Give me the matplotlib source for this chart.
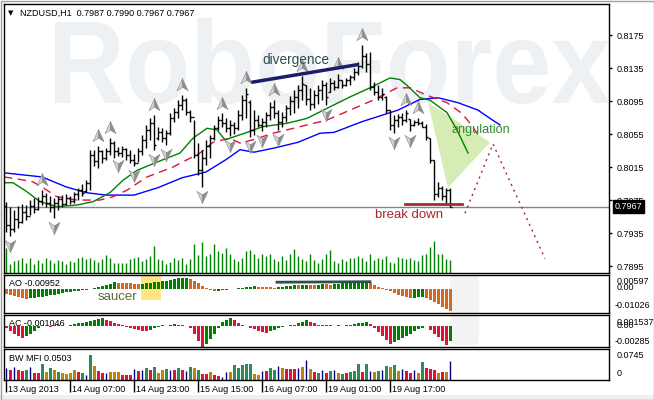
import numpy as np
import matplotlib.pyplot as plt
from matplotlib.path import Path
from matplotlib.patches import Polygon, Rectangle, FancyBboxPatch, PathPatch
from matplotlib.textpath import TextPath
from matplotlib.font_manager import FontProperties
from matplotlib.transforms import Affine2D, blended_transform_factory

plt.rcParams['font.family'] = ['Liberation Sans', 'DejaVu Sans']

# ---------------- data ----------------
title = 'NZDUSD,H1  0.7987 0.7990 0.7967 0.7967'
ao_label = 'AO -0.00952'
ac_label = 'AC -0.001046'
mfi_label = 'BW MFI 0.0503'
date_bars = [0, 16, 32, 48, 64, 80, 96]
date_labels = ['13 Aug 2013', '14 Aug 07:00', '14 Aug 23:00', '15 Aug 15:00',
               '16 Aug 07:00', '19 Aug 01:00', '19 Aug 17:00']
price_ticks = [0.7895, 0.7935, 0.7975, 0.8015, 0.8055, 0.8095, 0.8135, 0.8175]

high = [.7973, .7966, .7963, .7968, .7970, .7969, .7975, .7977, .7979, .7987,
        .7984, .7980, .7977, .7980, .7981, .7982, .7980, .7985, .7990, .7994,
        .7999, .8036, .8036, .8041, .8036, .8038, .8050, .8047, .8039, .8041,
        .8038, .8036, .8031, .8038, .8054, .8066, .8074, .8078, .8064, .8062,
        .8060, .8080, .8087, .8096, .8102, .8099, .8084, .8072, .8044, .8036,
        .8048, .8054, .8066, .8077, .8080, .8074, .8072, .8070, .8084, .8102,
        .8111, .8096, .8084, .8078, .8074, .8082, .8094, .8096, .8084, .8082,
        .8090, .8101, .8108, .8114, .8125, .8114, .8111, .8108, .8114, .8120,
        .8118, .8123, .8120, .8128, .8120, .8123, .8127, .8135, .8142, .8163,
        .8153, .8154, .8118, .8114, .8111, .8101, .8084, .8078, .8079, .8080,
        .8084, .8073, .8072, .8075, .8071, .8067, .8050, .8024, .7997, .7992,
        .7990, .7990]
low = [.7936, .7931, .7936, .7941, .7947, .7951, .7957, .7959, .7963, .7969,
       .7966, .7961, .7953, .7963, .7966, .7969, .7970, .7971, .7975, .7980,
       .7985, .7987, .8016, .8014, .8020, .8024, .8030, .8026, .8028, .8027,
       .8024, .8020, .8016, .8021, .8030, .8038, .8048, .8036, .8048, .8045,
       .8042, .8054, .8070, .8074, .8084, .8078, .8070, .8026, .8005, .7991,
       .8017, .8026, .8048, .8060, .8063, .8057, .8053, .8055, .8060, .8072,
       .8074, .8051, .8054, .8063, .8059, .8064, .8072, .8074, .8060, .8064,
       .8070, .8078, .8081, .8086, .8096, .8090, .8084, .8086, .8091, .8096,
       .8090, .8106, .8108, .8111, .8111, .8113, .8114, .8120, .8127, .8135,
       .8130, .8108, .8102, .8096, .8096, .8080, .8060, .8056, .8063, .8066,
       .8070, .8059, .8065, .8066, .8063, .8048, .8020, .7975, .7979, .7975,
       .7971, .7967]
open_ = [.7968, .7945, .7940, .7952, .7948, .7960, .7956, .7968, .7964, .7974,
         .7980, .7972, .7966, .7972, .7976, .7970, .7978, .7974, .7982, .7987,
         .7986, .7996, .8030, .8022, .8034, .8026, .8034, .8044, .8034, .8032,
         .8037, .8030, .8024, .8020, .8034, .8048, .8060, .8068, .8050, .8058,
         .8050, .8056, .8074, .8082, .8090, .8096, .8082, .8076, .8030, .8012,
         .8026, .8040, .8050, .8062, .8072, .8068, .8062, .8066, .8062, .8078,
         .8096, .8094, .8060, .8072, .8066, .8070, .8078, .8088, .8080, .8070,
         .8076, .8086, .8095, .8100, .8108, .8114, .8098, .8092, .8102, .8108,
         .8115, .8106, .8117, .8112, .8120, .8114, .8120, .8124, .8130, .8138,
         .8150, .8140, .8112, .8106, .8100, .8100, .8084, .8066, .8072, .8076,
         .8072, .8073, .8066, .8070, .8068, .8064, .8050, .8024, .7982, .7990,
         .7980, .7987]
close = [.7945, .7940, .7952, .7948, .7960, .7956, .7968, .7964, .7974, .7980,
         .7972, .7966, .7972, .7976, .7970, .7978, .7974, .7982, .7987, .7984,
         .7996, .8030, .8022, .8034, .8026, .8034, .8044, .8034, .8032, .8037,
         .8030, .8024, .8020, .8034, .8048, .8060, .8068, .8042, .8058, .8050,
         .8056, .8074, .8082, .8090, .8096, .8082, .8076, .8030, .8012, .8026,
         .8040, .8050, .8062, .8072, .8068, .8062, .8066, .8062, .8078, .8096,
         .8104, .8060, .8072, .8066, .8070, .8078, .8088, .8080, .8070, .8076,
         .8086, .8095, .8100, .8108, .8116, .8098, .8092, .8102, .8108, .8115,
         .8100, .8117, .8112, .8120, .8114, .8120, .8124, .8130, .8138, .8150,
         .8140, .8112, .8106, .8100, .8104, .8084, .8066, .8072, .8076, .8072,
         .8080, .8066, .8070, .8068, .8064, .8052, .8024, .7982, .7990, .7980,
         .7987, .7967]
volume = [1500, 540, 720, 780, 900, 600, 900, 540, 780, 600,
          900, 780, 600, 780, 720, 540, 720, 660, 900, 960,
          840, 900, 780, 660, 840, 1080, 900, 600, 600, 600,
          600, 840, 900, 960, 720, 840, 1020, 1620, 840, 780,
          540, 660, 900, 780, 900, 540, 840, 1740, 1080, 1860,
          1020, 1140, 1740, 1320, 1200, 1500, 1140, 840, 720, 900,
          1320, 1380, 1140, 900, 1140, 1020, 1140, 840, 720, 1020,
          780, 1140, 1440, 1020, 840, 720, 1140, 780, 600, 840,
          1140, 1380, 720, 600, 840, 720, 900, 900, 1020, 900,
          720, 1140, 780, 900, 840, 1020, 660, 600, 960, 900,
          840, 900, 780, 720, 1080, 1140, 1560, 1920, 1140, 1140,
          840, 780]

# Alligator lines (jaw / teeth / lips), sampled along the picture
jaw_bar = [-0.5, 9, 15, 20, 25, 32, 38, 44, 50, 55, 58.5, 62, 67, 73, 78.5, 82,
           89, 98, 103.5, 108, 113, 118, 121, 123.5]
jaw_price = [.8008, .8003, .7991, .7984, .7981, .7981, .7990, .8002, .8009, .8024,
             .8036, .8033, .8038, .8045, .8056, .8057, .8070, .8084, .8097, .8099,
             .8093, .8084, .8074, .8066]
teeth_bar = [-0.5, 3.5, 6.75, 9.25, 12.75, 17.75, 23.5, 26.75, 30.25, 35.25,
             41.75, 48.5, 51.75, 56, 58.5, 61.75, 66.75, 72.75, 80.25, 86,
             91.75, 97.75, 101, 105.25, 110.25, 114, 116, 118.5]
teeth_price = [.8003, .8000, .7997, .7990, .7979, .7975, .7975, .7979, .7987, .8003,
               .8015, .8032, .8045, .8050, .8044, .8048, .8056, .8063, .8072, .8084,
               .8096, .8111, .8111, .8102, .8093, .8080, .8068, .8051]
lips_bar = [-0.5, 1.75, 5.25, 8.5, 12.75, 17.75, 21.75, 26, 29.25, 32.75,
            37.75, 43.5, 46.75, 50.25, 52.75, 54.75, 56, 60.25, 64.25, 70.25,
            75.25, 81, 86, 91, 96, 98.5, 100.25, 103.5, 106, 110.25, 112.75, 115.5]
lips_price = [.7996, .7996, .7985, .7973, .7967, .7969, .7973, .7984, .7999, .8011,
              .8021, .8032, .8050, .8062, .8060, .8048, .8050, .8057, .8064, .8068,
              .8074, .8088, .8100, .8111, .8123, .8121, .8114, .8099, .8096, .8081,
              .8060, .8032]

up_fractals = [9, 23, 26, 37, 44, 54, 60, 67, 74, 83, 89, 100, 103]
down_fractals = [1, 12, 28, 32, 37, 40, 49, 56, 61, 64, 68, 80, 97, 101]

ao = [-0.0020, -0.0025, -0.0030, -0.0034, -0.0038, -0.0042,
      -0.0040, -0.0038, -0.0036, -0.0033, -0.0030, -0.0027, -0.0024, -0.0021,
      -0.0018, -0.0015, -0.0012, -0.0010, -0.0008, -0.0006, -0.0004, -0.0002,
      0.0003, 0.0008, 0.0013, 0.0018, 0.0023, 0.0028,
      0.0027, 0.0026, 0.0025, 0.0024, 0.0023, 0.0022,
      0.0023, 0.0024, 0.0026, 0.0028, 0.0030,
      0.0033, 0.0036, 0.0039, 0.0042, 0.0045, 0.0047, 0.0049,
      0.0044, 0.0036, 0.0026, 0.0014,
      0.0004, -0.0004, -0.0009,
      -0.0007, -0.0005, -0.0003, -0.0001, 0.0001, 0.0003, 0.0005, 0.0007, 0.0009, 0.0011,
      0.0010, 0.0009, 0.0008, 0.0007, 0.0006,
      0.0008, 0.0010, 0.0012, 0.0014, 0.0016,
      0.0015, 0.0017, 0.0019, 0.0018, 0.0017, 0.0019, 0.0021, 0.0020, 0.0019, 0.0021, 0.0023,
      0.0024, 0.0025, 0.0026, 0.0027, 0.0028, 0.0029, 0.0031,
      0.0026, 0.0018, 0.0010, 0.0004,
      -0.0003, -0.0010, -0.0018, -0.0025, -0.0031, -0.0036, -0.0040,
      -0.0038, -0.0036, -0.0035,
      -0.0040, -0.0048, -0.0057, -0.0066, -0.0076, -0.0086, -0.00952]
ac = [-0.0003, -0.0006, -0.0010, -0.0014, -0.0016,
      -0.0013, -0.0010, -0.0006, -0.0002,
      0.0001, 0.0000, -0.0001, 0.0001, 0.0002, 0.0001, 0.0000,
      0.0002, 0.0003, 0.0004, 0.0005, 0.0006,
      0.0007, 0.0008, 0.0010, 0.0011,
      0.0009, 0.0007, 0.0005,
      0.0003, 0.0001, -0.0001,
      -0.0003, -0.0004, -0.0005, -0.0006, -0.0007,
      -0.0005, -0.0003, -0.0001, 0.0001, 0.0000, 0.0002, 0.0003, 0.0002, 0.0001,
      0.0000, -0.0002,
      -0.0010, -0.0020, -0.0028,
      -0.0025, -0.0018, -0.0010,
      -0.0002, 0.0006, 0.0009, 0.0011,
      0.0008, 0.0004, 0.0002, 0.0000,
      -0.0002, -0.0004, -0.0006, -0.0008, -0.0009,
      -0.0007, -0.0005, -0.0003,
      -0.0001, 0.0000, 0.0001, 0.0002,
      0.0004, 0.0006, 0.0008,
      0.0006, 0.0004, 0.0002,
      0.0001, 0.0002, 0.0001, 0.0000, 0.0001, 0.0000, 0.0001, 0.0002, 0.0003,
      0.0004, 0.0005, 0.0006,
      0.0003, -0.0002, -0.0008, -0.0014, -0.0019, -0.0024,
      -0.0022, -0.0019, -0.0016, -0.0013,
      -0.0010, -0.0007, -0.0004,
      -0.0002, 0.0000,
      -0.0005, -0.0010, -0.0015, -0.0020, -0.0026,
      -0.0020]
mfi = [.0298, .0248, .0322, .0248, .0223, .0248, .0322, .0174, .0174, .0397,
       .0198, .0298, .0248, .0198, .0174, .0149, .0174, .0248, .0198, .0174,
       .0124, .0620, .0347, .0223, .0174, .0174, .0198, .0198, .0198, .0124,
       .0124, .0124, .0273, .0223, .0248, .0298, .0248, .0322, .0174, .0248,
       .0273, .0248, .0248, .0298, .0248, .0223, .0322, .0298, .0248, .0149,
       .0149, .0198, .0124, .0099, .0074, .0198, .0198, .0372, .0298, .0372,
       .0397, .0397, .0149, .0124, .0223, .0223, .0298, .0248, .0347, .0298,
       .0273, .0273, .0273, .0298, .0322, .0496, .0273, .0198, .0174, .0248,
       .0174, .0223, .0248, .0174, .0149, .0174, .0198, .0223, .0397, .0198,
       .0397, .0223, .0198, .0223, .0248, .0347, .0322, .0372, .0223, .0273,
       .0223, .0174, .0248, .0174, .0446, .0298, .0273, .0248, .0174, .0198,
       .0198, .0471]
mfi_kind = list('brbrrgbrrg' 'ogogoooorg' 'bgorrbooor' 'rrbrbgrgoo' 'gbrgrbgogr'
                'rorrbboggg' 'ggoobrggbo' 'rrrboborgb' 'rgbogrgggr' 'gbogbgogob'
                'rrbogrrror' 'ob')

# ---------------- layout ----------------
W, H = 654, 400
fig = plt.figure(figsize=(W / 100, H / 100), dpi=100, facecolor='white')
px = Affine2D().scale(1, -1).translate(0, H).scale(0.01) + fig.dpi_scale_trans


def box(x0, y0, x1, y1):
    return [x0 / W, 1 - y1 / H, (x1 - x0) / W, (y1 - y0) / H]


ax = fig.add_axes(box(4, 4, 609, 273))
ax_ao = fig.add_axes(box(4, 275, 609, 313))
ax_ac = fig.add_axes(box(4, 315, 609, 347))
ax_mfi = fig.add_axes(box(4, 349, 609, 380))

n = len(close)
bars = np.arange(n)
for a in (ax, ax_ao, ax_ac, ax_mfi):
    a.set_xlim(-0.5, 150.75)
    a.set_xticks([])
    a.set_yticks([])
    for s in a.spines.values():
        s.set_linewidth(1)
        s.set_color('black')

# ---------------- main price panel ----------------
ax.set_ylim(0.78866, 0.82126)

# watermark
wm_prop = FontProperties(family='Liberation Sans', weight='bold')
wm = TextPath((0, 0), 'RoboForex', size=100, prop=wm_prop)
wm_ext = wm.get_extents()
cap = TextPath((0, 0), 'R', size=100, prop=wm_prop).get_extents().y1
wm_tr = Affine2D().translate(-wm_ext.x0, 0).scale(555 / wm_ext.width, -81 / cap).translate(55, 103) + px
ax.add_patch(PathPatch(wm, transform=wm_tr, fc='#EEF1F4', ec='none', zorder=0))

# angulation triangle
ax.add_patch(Polygon([(105.5, .8093), (121, .8045), (110.5, .7990)], closed=True,
                     fc='#D6ECB4', ec='none', zorder=0.6))

ax.axhline(close[-1], color='#7B8794', lw=1, zorder=0.8)

ax.vlines(bars, 0, np.array(volume) / (269 * 60),
          transform=ax.get_xaxis_transform(), color='#008000', lw=1, zorder=1)

ax.plot(jaw_bar, jaw_price, color='#0000FF', lw=1, zorder=1.5)
ax.plot(teeth_bar, teeth_price, color='#DC143C', lw=1, ls=(0, (6, 4)), zorder=1.5)
ax.plot(lips_bar, lips_price, color='#008000', lw=1, zorder=1.5)

ax.vlines(bars, low, high, color='black', lw=1, zorder=2)
ax.hlines(open_, bars - 0.5, bars, color='black', lw=1, zorder=2)
ax.hlines(close, bars, bars + 0.5, color='black', lw=1, zorder=2)

# fractal arrows (two shaded halves)
up_l = Path([(0, 1), (-0.8, -0.75), (0, -0.25), (0, 1)])
up_r = Path([(0, 1), (0.8, -0.75), (0, -0.25), (0, 1)])
dn_l = Path([(0, -1), (-0.8, 0.75), (0, 0.25), (0, -1)])
dn_r = Path([(0, -1), (0.8, 0.75), (0, 0.25), (0, -1)])
hi = np.array(high)
lo = np.array(low)
for mk, fc in ((up_l, '#D2D2D2'), (up_r, '#8E8E8E')):
    ax.plot(up_fractals, hi[up_fractals] + 0.0012, ls='none', marker=mk, ms=10,
            mfc=fc, mec='#8A8A8A', mew=0.4, zorder=3)
for mk, fc in ((dn_l, '#D2D2D2'), (dn_r, '#8E8E8E')):
    ax.plot(down_fractals, lo[down_fractals] - 0.0011, ls='none', marker=mk, ms=10,
            mfc=fc, mec='#8A8A8A', mew=0.4, zorder=3)

# annotations
ax.plot([61.75, 87.75], [.8118, .8139], color='#1C1C6E', lw=2.5, zorder=4)
ax.text(72.5, .8145, 'divergence', color='#2F4F4F', fontsize=9.8,
        ha='center', va='center', zorder=4)
ax.plot([99.75, 114], [.7970, .7970], color='#A52A2A', lw=2, zorder=4)
ax.text(100.75, .7957, 'break down', color='#A52A2A', fontsize=9.5,
        ha='center', va='center', zorder=4)
ax.text(118.75, .8060, 'angulation', color='#2E8B2E', fontsize=9.1,
        ha='center', va='center', zorder=4)
ax.plot([114.75, 121.75, 134.75], [.7959, .8043, .7904], color='#A52A2A',
        lw=1, ls=(0, (1.5, 3)), zorder=4)

ax.yaxis.tick_right()
ax.set_yticks(price_ticks)
ax.set_yticklabels([f'{v:.4f}' for v in price_ticks])
ax.tick_params(axis='y', length=2.2, width=1, pad=3, labelsize=6.5)
ax.annotate(f'{close[-1]:.4f}', xy=(1, close[-1]), xycoords=('axes fraction', 'data'),
            xytext=(4.2, 0), textcoords='offset points', ha='left', va='center',
            color='white', fontsize=6.5, zorder=10, annotation_clip=False,
            bbox=dict(boxstyle='square,pad=0.2', fc='black', ec='black'))

fig.text(8, 13, '\u25bc', transform=px, fontsize=5, family='DejaVu Sans',
         ha='left', va='center')
fig.text(20, 13, title, transform=px, fontsize=6.5, ha='left', va='center')

# ---------------- AO ----------------
ax_ao.set_ylim(-0.01026, 0.00597)
ao_col = ['#D2691E' if i == 0 or ao[i] < ao[i - 1] else '#008000' for i in range(n)]
ax_ao.add_patch(Rectangle((33.75, -0.0047), 5, 0.0107, fc='#FFE680', ec='none', zorder=0.5))
ax_ao.bar(bars, ao, width=0.75, color=ao_col, zorder=2)
ax_ao.plot([67.75, 91], [0.0029, 0.0031], color='#2F4F4F', lw=2, zorder=3)
ax_ao.text(27.75, -0.0035, 'saucer', color='#5B6B3A', fontsize=9.5,
           ha='center', va='center', zorder=3)
ax_ao.text(9, 283.5, ao_label, transform=px, fontsize=6.5, va='center', zorder=1)

# ---------------- AC ----------------
ax_ac.set_ylim(-0.00285, 0.001537)
ac_col = ['#DC143C' if i == 0 or ac[i] < ac[i - 1] else '#008000' for i in range(n)]
ax_ac.bar(bars, ac, width=0.75, color=ac_col, zorder=2)
ax_ac.text(9, 324, ac_label, transform=px, fontsize=6.5, va='center', zorder=1)

for a in (ax_ao, ax_ac):
    a.add_patch(FancyBboxPatch((450, 275), 29, 70, boxstyle='round,pad=0,rounding_size=6',
                               transform=px, fc='#F3F3F3', ec='none', zorder=0.3))

# ---------------- BW MFI ----------------
kind_color = {'g': '#2E8B57', 'r': '#DC143C', 'o': '#B8860B', 'b': '#000080'}
ax_mfi.set_ylim(0, 0.0768)
for k in 'gro':
    sel = [i for i in range(n) if mfi_kind[i] == k]
    ax_mfi.bar(sel, [mfi[i] for i in sel], width=0.75, color=kind_color[k], zorder=2)
sel = [i for i in range(n) if mfi_kind[i] == 'b']
ax_mfi.vlines(sel, 0, [mfi[i] for i in sel], color=kind_color['b'], lw=1, zorder=2)
ax_mfi.text(9, 358.5, mfi_label, transform=px, fontsize=6.5, va='center', zorder=1)

ax_mfi.set_xticks(date_bars)
ax_mfi.tick_params(axis='x', length=8.5, width=1, labelbottom=False)
date_tr = blended_transform_factory(ax_mfi.transData, px)
for b, lab in zip(date_bars, date_labels):
    ax_mfi.text(b + 0.4, 389, lab, transform=date_tr, fontsize=6.5, ha='left',
                va='center', clip_on=False)

# right-hand scale texts of the sub windows
for y, s in ((282, '0.00597'), (287.5, '0.00'), (305, '-0.01026'),
             (322.5, '0.001537'), (325, '0.00'), (341, '-0.00285'),
             (356, '0.0745'), (373, '0')):
    fig.text(617 if not s.startswith('-') else 615, y, s, transform=px,
             fontsize=6.5, ha='left', va='center')

# frame of the window
fig.patches.append(Rectangle((0, 395), W, 5, transform=px, fc='#F0F0F0', ec='none'))
fig.patches.append(Rectangle((0.5, 0.5), W - 1, H - 1, transform=px, fill=False,
                             ec='#A0A0A0', lw=1))

fig.savefig('out.png', dpi=100)
